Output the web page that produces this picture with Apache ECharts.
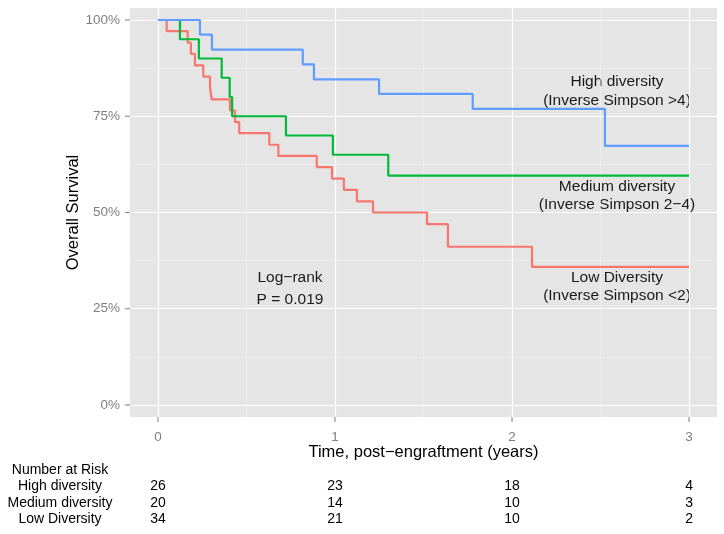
<!DOCTYPE html>
<html><head><meta charset="utf-8">
<script src="https://cdn.jsdelivr.net/npm/echarts@6/dist/echarts.min.js"></script>
<style>html,body{margin:0;padding:0;background:#fff}#c{width:724px;height:534px}</style>
</head><body><div id="c"></div>
<script>
// ---- data ----
const highTimes   = [0, 0.237, 0.305, 0.818, 0.881, 1.249, 1.778, 2.525, 3.0];
const highSurv    = [100, 96.2, 92.3, 88.5, 84.6, 80.8, 76.9, 67.3, 67.3];
const mediumTimes = [0, 0.124, 0.231, 0.36, 0.405, 0.419, 0.723, 0.988, 1.301, 3.0];
const mediumSurv  = [100, 95, 90, 85, 80, 75, 70, 65, 59.6, 59.6];
const lowTimes    = [0, 0.049, 0.168, 0.186, 0.209, 0.256, 0.294, 0.303, 0.407, 0.435, 0.459, 0.629, 0.68, 0.897, 0.983, 1.05, 1.124, 1.215, 1.52, 1.638, 2.113, 3.0];
const lowSurv     = [100, 97.1, 94.1, 91.2, 88.2, 85.3, 82.4, 79.4, 76.5, 73.5, 70.6, 67.6, 64.7, 61.8, 58.8, 55.9, 52.9, 50.0, 47.0, 41.1, 35.9, 35.9];

const xTicks = [0, 1, 2, 3];
const xMinor = [0.5, 1.5, 2.5];
const yTicks = [0, 25, 50, 75, 100];
const yMinor = [12.5, 37.5, 62.5, 87.5];

const riskTimes  = [0, 1, 2, 3];
const riskHigh   = [26, 23, 18, 4];
const riskMedium = [20, 14, 10, 3];
const riskLow    = [34, 21, 10, 2];
const riskTitle  = 'Number at Risk';
const riskNames  = ['High diversity', 'Medium diversity', 'Low Diversity'];

const groupLabels = [
  ['High diversity', '(Inverse Simpson >4)'],
  ['Medium diversity', '(Inverse Simpson 2\u22124)'],
  ['Low Diversity', '(Inverse Simpson <2)']
];
const testLabels = ['Log\u2212rank', 'P = 0.019'];

// ---- chart ----
const FONT = '"Liberation Sans", Arial, Helvetica, sans-serif';
const chart = echarts.init(document.getElementById('c'), null, {renderer: 'canvas'});
const pairs = (t, s) => t.map((v, i) => [v, s[i]]);

const GRID = {left: 130, top: 8, width: 587, height: 409};
const X_MIN = -0.158, X_MAX = 3.158, Y_MIN = -3.12, Y_MAX = 103.12;

const gridMarks = [
  ...yMinor.map(v => ({yAxis: v, lineStyle: {color: '#f2f2f2', width: 0.6, type: 'solid'}})),
  ...xMinor.map(v => ({xAxis: v, lineStyle: {color: '#f2f2f2', width: 0.6, type: 'solid'}})),
  ...yTicks.map(v => ({yAxis: v, lineStyle: {color: '#ffffff', width: 1.2, type: 'solid'}})),
  ...xTicks.map(v => ({xAxis: v, lineStyle: {color: '#ffffff', width: 1.2, type: 'solid'}}))
];

function curve(name, t, s, color) {
  return {
    name, type: 'line', step: 'end', data: pairs(t, s), showSymbol: false, symbol: 'none',
    lineStyle: {color, width: 2.2}, itemStyle: {color}, z: 10, silent: true, animation: false
  };
}

function tickSeries(values, horizontal) {
  return {
    type: 'custom', silent: true, clip: false, z: 5, animation: false,
    data: values.map(v => [v]),
    renderItem(params, api) {
      const v = api.value(0);
      if (horizontal) {
        const p = api.coord([v, Y_MIN]);
        return {type: 'line', shape: {x1: p[0], y1: p[1], x2: p[0], y2: p[1] + 5}, style: {stroke: '#8a8a8a', lineWidth: 1.1}};
      }
      const p = api.coord([X_MIN, v]);
      return {type: 'line', shape: {x1: p[0] - 5, y1: p[1], x2: p[0], y2: p[1]}, style: {stroke: '#8a8a8a', lineWidth: 1.1}};
    }
  };
}

chart.setOption({
  animation: false,
  backgroundColor: '#ffffff',
  grid: Object.assign({show: true, backgroundColor: '#E5E5E5', borderWidth: 0}, GRID),
  xAxis: {
    type: 'value', min: X_MIN, max: X_MAX,
    name: 'Time, post\u2212engraftment (years)', nameLocation: 'middle', nameGap: 27, nameMoveOverlap: false,
    nameTextStyle: {color: '#000', fontSize: 16.5, fontFamily: FONT},
    axisLine: {show: false},
    axisTick: {show: false},
    axisLabel: {customValues: xTicks, color: '#7f7f7f', fontSize: 13.5, fontFamily: FONT, margin: 13},
    splitLine: {show: false}
  },
  yAxis: {
    type: 'value', min: Y_MIN, max: Y_MAX,
    name: 'Overall Survival', nameLocation: 'middle', nameGap: 48, nameRotate: 90, nameMoveOverlap: false,
    nameTextStyle: {color: '#000', fontSize: 16.5, fontFamily: FONT},
    axisLine: {show: false},
    axisTick: {show: false},
    axisLabel: {customValues: yTicks, formatter: '{value}%', color: '#7f7f7f', fontSize: 13.5, fontFamily: FONT, margin: 10},
    splitLine: {show: false}
  },
  series: [
    {
      type: 'line', data: [], silent: true, z: 1,
      markLine: {silent: true, z: 1, symbol: ['none', 'none'], label: {show: false}, animation: false, data: gridMarks}
    },
    tickSeries(xTicks, true),
    tickSeries(yTicks, false),
    curve('Low Diversity', lowTimes, lowSurv, '#F8766D'),
    curve('Medium diversity', mediumTimes, mediumSurv, '#00BA38'),
    curve('High diversity', highTimes, highSurv, '#619CFF')
  ]
});

// ---- annotations and risk table ----
const txt = (x, y, text, opts) => ({
  type: 'text', x, y, silent: true,
  style: Object.assign({text, fill: '#1a1a1a', font: '15.5px ' + FONT, textAlign: 'center', textVerticalAlign: 'middle'}, opts || {})
});
const g = [];
const labelY = [[82, 101], [186.5, 205], [277.5, 296]];
groupLabels.forEach((lines, i) => {
  g.push(txt(617, labelY[i][0], lines[0]));
  g.push(txt(617, labelY[i][1], lines[1]));
});
g.push(txt(290, 278, testLabels[0]));
g.push(txt(290, 300, testLabels[1]));

const tableFont = '14px ' + FONT;
g.push(txt(60, 470, riskTitle, {font: tableFont, fill: '#000'}));
const rowY = [486.5, 503, 519.5];
const rows = [riskHigh, riskMedium, riskLow];
riskNames.forEach((n, i) => g.push(txt(60, rowY[i], n, {font: tableFont, fill: '#000'})));
rows.forEach((row, i) => {
  row.forEach((v, j) => {
    const px = chart.convertToPixel({xAxisIndex: 0}, riskTimes[j]);
    g.push(txt(px, rowY[i], String(v), {font: tableFont, fill: '#000'}));
  });
});
chart.setOption({graphic: {elements: g}});
</script>
</body></html>
